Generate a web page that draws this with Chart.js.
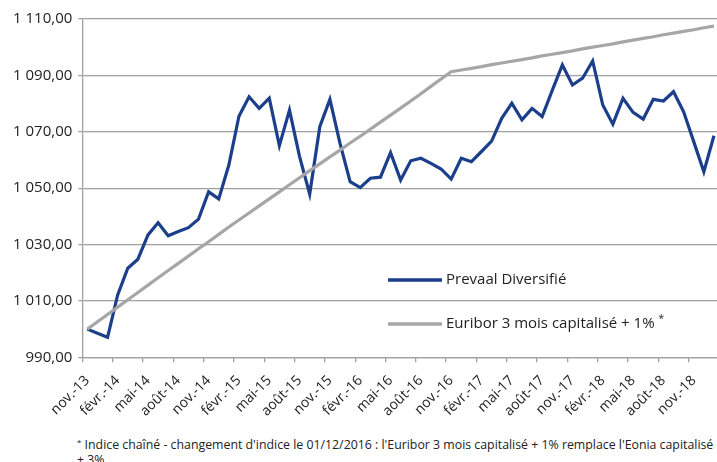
<!DOCTYPE html>
<html>
<head>
<meta charset="utf-8">
<script src="https://cdn.jsdelivr.net/npm/chart.js@4.4.1/dist/chart.umd.min.js"></script>
<style>
    html, body { margin: 0; padding: 0; background: #fff; }
    body { width: 717px; height: 462px; overflow: hidden; position: relative; }
    #chart { position: absolute; left: 0; top: 0; }
    #note {
        position: absolute; left: 77px; top: 437px;
        font-family: 'Open Sans', sans-serif; font-size: 12px; line-height: 15px;
        color: #222; white-space: nowrap;
    }
    #note sup { font-size: 8px; vertical-align: 4px; line-height: 0; }
</style>
</head>
<body>
<canvas id="chart" width="722" height="430"></canvas>
<div id="note"><span id="note-line"><sup>*</sup> Indice chaîné - changement d'indice le 01/12/2016 : l'Euribor 3 mois capitalisé + 1% remplace l'Eonia capitalisé</span><br>+ 3%</div>
<script>
// Monthly categories, nov. 2013 -> janv. 2019
const months = [
    'nov.-13', 'déc.-13',
    'janv.-14', 'févr.-14', 'mars-14', 'avr.-14', 'mai-14', 'juin-14', 'juil.-14', 'août-14', 'sept.-14', 'oct.-14', 'nov.-14', 'déc.-14',
    'janv.-15', 'févr.-15', 'mars-15', 'avr.-15', 'mai-15', 'juin-15', 'juil.-15', 'août-15', 'sept.-15', 'oct.-15', 'nov.-15', 'déc.-15',
    'janv.-16', 'févr.-16', 'mars-16', 'avr.-16', 'mai-16', 'juin-16', 'juil.-16', 'août-16', 'sept.-16', 'oct.-16', 'nov.-16', 'déc.-16',
    'janv.-17', 'févr.-17', 'mars-17', 'avr.-17', 'mai-17', 'juin-17', 'juil.-17', 'août-17', 'sept.-17', 'oct.-17', 'nov.-17', 'déc.-17',
    'janv.-18', 'févr.-18', 'mars-18', 'avr.-18', 'mai-18', 'juin-18', 'juil.-18', 'août-18', 'sept.-18', 'oct.-18', 'nov.-18', 'déc.-18',
    'janv.-19'
];

const prevaal = [
    1000.0, 998.5, 997.1, 1012.1, 1021.6, 1024.8, 1033.4, 1037.7, 1033.1, 1034.6,
    1036.0, 1039.0, 1048.7, 1046.2, 1058.2, 1075.5, 1082.4, 1078.3, 1081.9, 1065.1,
    1077.7, 1061.2, 1047.9, 1071.8, 1081.5, 1065.9, 1052.3, 1050.2, 1053.5, 1053.9,
    1062.6, 1052.9, 1059.7, 1060.6, 1058.8, 1056.8, 1053.2, 1060.6, 1059.4, 1063.0,
    1066.7, 1074.8, 1080.1, 1074.2, 1078.3, 1075.4, 1084.7, 1093.7, 1086.6, 1089.0,
    1095.1, 1079.5, 1072.7, 1081.9, 1076.9, 1074.5, 1081.5, 1080.9, 1084.2, 1077.1,
    1066.5, 1055.8, 1068.6
];

const euribor = [
    1000.0, 1002.6, 1005.2, 1007.8, 1010.4, 1013.0, 1015.6, 1018.2, 1020.8, 1023.3,
    1025.9, 1028.5, 1031.0, 1033.6, 1036.2, 1038.7, 1041.2, 1043.7, 1046.2, 1048.7,
    1051.2, 1053.7, 1056.2, 1058.6, 1061.1, 1063.5, 1066.0, 1068.4, 1070.9, 1073.4,
    1075.9, 1078.4, 1080.9, 1083.5, 1086.1, 1088.7, 1091.3, 1091.9, 1092.5, 1093.1,
    1093.8, 1094.4, 1095.0, 1095.6, 1096.2, 1096.9, 1097.5, 1098.1, 1098.7, 1099.4,
    1100.0, 1100.6, 1101.2, 1101.9, 1102.5, 1103.1, 1103.7, 1104.4, 1105.0, 1105.6,
    1106.2, 1106.9, 1107.5
];

const seriesNames = ['Prevaal Diversifié', 'Euribor 3 mois capitalisé + 1%'];
const yMin = 990;
const yMax = 1110;
const yStep = 20;

const BLUE = '#1b3f8b';
const GREY = '#a6a6a6';
const GRID = '#a0a0a0';
const FONT = "'Open Sans', sans-serif";

// "1 110,00" style
function frNumber(v) {
    const parts = v.toFixed(2).split('.');
    const intPart = parts[0].replace(/\B(?=(\d{3})+(?!\d))/g, ' ');
    return intPart + ',' + parts[1];
}

/**
 * Legend drawn inside the plot area, no background
 */
const innerLegend = {
    id: 'innerLegend',
    afterDraw(chart) {
        const ctx = chart.ctx;
        const items = [
            { y: 280, color: BLUE, text: seriesNames[0], star: false },
            { y: 324, color: GREY, text: seriesNames[1], star: true }
        ];
        ctx.save();
        items.forEach(item => {
            ctx.strokeStyle = item.color;
            ctx.lineWidth = 3.5;
            ctx.beginPath();
            ctx.moveTo(388, item.y);
            ctx.lineTo(442, item.y);
            ctx.stroke();

            ctx.fillStyle = '#222';
            ctx.font = '15px ' + FONT;
            ctx.textBaseline = 'middle';
            ctx.textAlign = 'left';
            ctx.fillText(item.text, 446, item.y);
            if (item.star) {
                const w = ctx.measureText(item.text + ' ').width;
                ctx.font = '10px ' + FONT;
                ctx.fillText('*', 446 + w, item.y - 5);
            }
        });
        ctx.restore();
    }
};

const ctx = document.getElementById('chart').getContext('2d');
const chart = new Chart(ctx, {
    type: 'line',
    data: {
        labels: months,
        datasets: [{
            label: seriesNames[0],
            data: prevaal,
            borderColor: BLUE,
            backgroundColor: BLUE,
            borderWidth: 3.2,
            pointRadius: 0,
            tension: 0,
            order: 1
        }, {
            label: seriesNames[1],
            data: euribor,
            borderColor: GREY,
            backgroundColor: GREY,
            borderWidth: 3.2,
            pointRadius: 0,
            tension: 0,
            order: 0
        }]
    },
    options: {
        responsive: false,
        animation: false,
        layout: {
            padding: { top: 19, right: 3, left: 0, bottom: 0 }
        },
        plugins: {
            legend: { display: false },
            tooltip: { enabled: false }
        },
        scales: {
            x: {
                offset: true,
                grid: {
                    offset: true,
                    drawOnChartArea: false,
                    tickLength: 5,
                    tickColor: c => (c.index % 3 === 0 ? GRID : 'rgba(0,0,0,0)'),
                    lineWidth: 1.3
                },
                border: { color: GRID, width: 1.3 },
                ticks: {
                    autoSkip: false,
                    minRotation: 45,
                    maxRotation: 45,
                    padding: 10,
                    color: '#222',
                    font: { family: FONT, size: 14 },
                    callback: (val, i) => (i % 3 === 0 ? months[i] : '')
                },
                afterFit: scale => {
                    scale.height = 72.7;
                    scale.paddingLeft = 0;
                    scale.paddingRight = 0;
                }
            },
            y: {
                min: yMin,
                max: yMax,
                grid: {
                    color: GRID,
                    lineWidth: 1.3,
                    tickLength: 4
                },
                border: { color: GRID, width: 1.3 },
                ticks: {
                    stepSize: yStep,
                    padding: 6,
                    color: '#222',
                    font: { family: FONT, size: 15 },
                    callback: v => frNumber(v)
                },
                afterFit: scale => { scale.width = 82.3; }
            }
        }
    },
    plugins: [innerLegend]
});

// fit the footnote line to the width it has in the original
const line = document.getElementById('note-line');
const target = 637;
const note = document.getElementById('note');
const size = 12 * target / line.getBoundingClientRect().width;
note.style.fontSize = size.toFixed(2) + 'px';
</script>
</body>
</html>
